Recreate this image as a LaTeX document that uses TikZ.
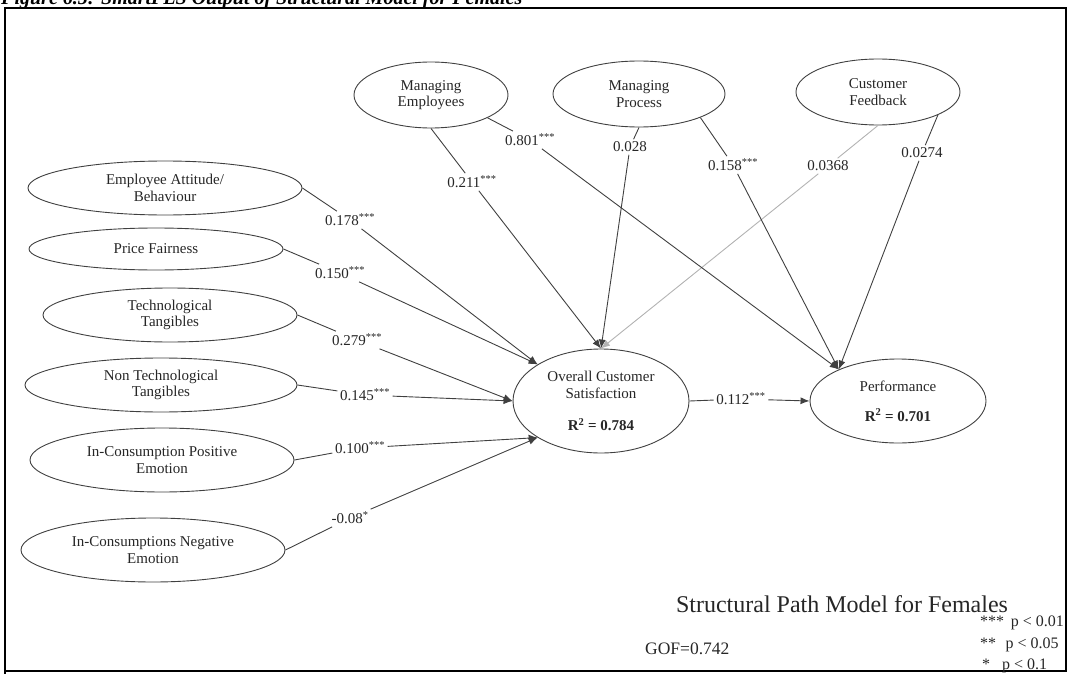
\documentclass[tikz,border=0pt]{standalone}
\usepackage{fontspec}
\setmainfont{Liberation Serif}
\usetikzlibrary{shapes.geometric,arrows.meta}

\begin{document}
\begin{tikzpicture}[x=1pt,y=-1pt,
  latent/.style={ellipse,draw=black!75,line width=0.9pt,inner sep=0pt,align=center,
    font=\fontsize{15}{16.5}\selectfont,text=black!85},
  coef/.style={inner sep=2.5pt,font=\fontsize{15}{16}\selectfont,text=black!85},
  link/.style={draw=black!75,line width=0.9pt},
  arc/.style={link,-{Latex[length=9pt,width=7pt]}},
  faint/.style={draw=black!30},
  legend/.style={anchor=base west,inner sep=0pt,text=black!85,font=\fontsize{16}{17}\selectfont},
]
\useasboundingbox (0,0) rectangle (1071,674);

% caption above the frame
\node[anchor=base west,inner sep=0pt,font=\fontsize{20}{22}\selectfont\bfseries\itshape] (cap) at (1,5)
  {Figure 6.5: SmartPLS Output of Structural Model for Females};

% frame
\draw[line width=2.4pt] (5,674) -- (5,8) -- (1066,8) -- (1066,671) -- (5,671);

% exogenous constructs (left column)
\node[latent,minimum width=274,minimum height=54] (emp) at (165,188) {Employee Attitude/\\Behaviour};
\node[latent,minimum width=254,minimum height=42] (pf)  at (156,249) {Price Fairness};
\node[latent,minimum width=254,minimum height=54] (tt)  at (170,315) {Technological\\Tangibles};
\node[latent,minimum width=272,minimum height=54] (nt)  at (161,385) {Non Technological\\Tangibles};
\node[latent,minimum width=264,minimum height=64] (pe)  at (162,460) {In-Consumption Positive\\Emotion};
\node[latent,minimum width=264,minimum height=64] (ne)  at (153,550) {In-Consumptions Negative\\Emotion};

% exogenous constructs (top row)
\node[latent,minimum width=154,minimum height=66] (me) at (431,95) {Managing\\Employees};
\node[latent,minimum width=172,minimum height=66] (mp) at (639,94) {Managing\\Process};
\node[latent,minimum width=164,minimum height=66] (cf) at (878,92) {Customer\\Feedback};

% endogenous constructs
\node[latent,minimum width=176,minimum height=104] (ocs) at (601,401)
  {Overall Customer\\Satisfaction\\[15.5pt]\textbf{R\textsuperscript{2} = 0.784}};
\node[latent,minimum width=176,minimum height=84] (perf) at (898,401)
  {Performance\\[13.5pt]\textbf{R\textsuperscript{2} = 0.701}};

% path coefficients
\node[coef] (l178) at (350,220) {0.178\textsuperscript{***}};
\node[coef] (l150) at (340,273) {0.150\textsuperscript{***}};
\node[coef] (l279) at (357,340) {0.279\textsuperscript{***}};
\node[coef] (l145) at (365,395) {0.145\textsuperscript{***}};
\node[coef] (l100) at (360,448) {0.100\textsuperscript{***}};
\node[coef] (l08)  at (350,518) {-0.08\textsuperscript{*}};
\node[coef] (l211) at (472,182) {0.211\textsuperscript{***}};
\node[coef] (l801) at (530,140) {0.801\textsuperscript{***}};
\node[coef] (l028) at (630,147) {0.028};
\node[coef] (l158) at (733,165) {0.158\textsuperscript{***}};
\node[coef] (l0368) at (828,166) {0.0368};
\node[coef] (l0274) at (922,153) {0.0274};
\node[coef] (l112) at (741,399) {0.112\textsuperscript{***}};

% paths into customer satisfaction
\draw[link] (emp.east) -- (l178);  \draw[arc] (l178) -- (ocs.150);
\draw[link] (pf.east)  -- (l150);  \draw[arc] (l150) -- (ocs.150);
\draw[link] (tt.east)  -- (l279);  \draw[arc] (l279) -- (ocs.180);
\draw[link] (nt.east)  -- (l145);  \draw[arc] (l145) -- (ocs.180);
\draw[link] (pe.east)  -- (l100);  \draw[arc] (l100) -- (ocs.210);
\draw[link] (ne.east)  -- (l08);   \draw[arc] (l08)  -- (ocs.210);
\draw[link] (me.south) -- (l211);  \draw[arc] (l211) -- (ocs.90);
\draw[link] (mp.south) -- (l028);  \draw[arc] (l028) -- (ocs.90);
\draw[link,faint] (cf.south) -- (l0368); \draw[arc,faint] (l0368) -- (ocs.90);

% paths into performance
\draw[link] (me.-22) -- (l801);    \draw[arc] (l801) -- (perf.152);
\draw[link] (mp.-21) -- (l158);    \draw[arc] (l158) -- (perf.152);
\draw[link] (cf.-21) -- (l0274);   \draw[arc] (l0274) -- (perf.152);
\draw[link] (ocs.east) -- (l112);  \draw[arc] (l112) -- (perf.west);

% model title, fit and significance legend
\node[anchor=base,inner sep=0pt,text=black!85,font=\fontsize{24}{26}\selectfont] (title) at (842,612) {Structural Path Model for Females};
\node[anchor=base west,inner sep=0pt,text=black!85,font=\fontsize{17.5}{18}\selectfont] (gof) at (645,654) {GOF=0.742};
\node[legend] (s3) at (980,626) {*** \,p < 0.01};
\node[legend] (s2) at (980,648) {** \,\,p < 0.05};
\node[legend] (s1) at (982,669) {*\ \ \ p < 0.1};
\end{tikzpicture}
\end{document}
